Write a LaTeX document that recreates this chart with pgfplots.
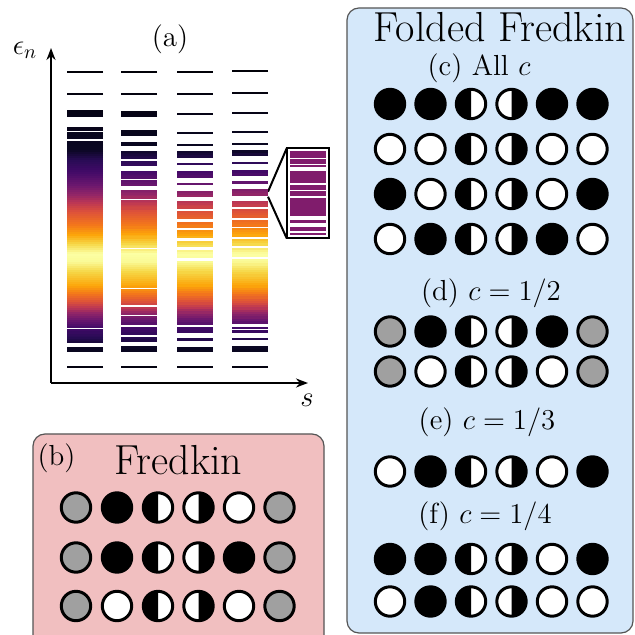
\documentclass[border=0pt]{standalone}
\usepackage{fontspec}
\usepackage{pgfplots}
\pgfplotsset{compat=1.18}
\usetikzlibrary{arrows.meta}

\definecolor{pinkbg}{RGB}{241,191,192}
\definecolor{bluebg}{RGB}{213,232,250}
\definecolor{boxedge}{RGB}{85,85,85}
\definecolor{dotgray}{RGB}{160,160,160}
\definecolor{insetpurple}{RGB}{128,28,108}

% half filled discs: left half black / right half black
\pgfdeclareplotmark{halfL}{%
  \pgfpathcircle{\pgfpointorigin}{\pgfplotmarksize}%
  \pgfsetfillcolor{white}\pgfusepathqfill
  \pgfpathmoveto{\pgfqpoint{0pt}{\pgfplotmarksize}}%
  \pgfpatharc{90}{270}{\pgfplotmarksize}%
  \pgfpathclose
  \pgfsetfillcolor{black}\pgfusepathqfill
  \pgfpathcircle{\pgfpointorigin}{\pgfplotmarksize}%
  \pgfusepathqstroke}
\pgfdeclareplotmark{halfR}{%
  \pgfpathcircle{\pgfpointorigin}{\pgfplotmarksize}%
  \pgfsetfillcolor{white}\pgfusepathqfill
  \pgfpathmoveto{\pgfqpoint{0pt}{\pgfplotmarksize}}%
  \pgfpatharc{90}{-90}{\pgfplotmarksize}%
  \pgfpathclose
  \pgfsetfillcolor{black}\pgfusepathqfill
  \pgfpathcircle{\pgfpointorigin}{\pgfplotmarksize}%
  \pgfusepathqstroke}

\newcommand{\lblfont}{\fontsize{14.5}{17}\selectfont}
\newcommand{\ttlfont}{\fontsize{21}{25}\selectfont}

\begin{document}
\begin{tikzpicture}
\useasboundingbox (0,0) rectangle (317pt,317.5pt);
\clip (0,0) rectangle (317pt,317.5pt);
% panel backgrounds
\draw[fill=pinkbg, draw=boxedge, line width=0.6pt, rounded corners=6pt] (16.5pt,100.5pt) rectangle (162pt,-10pt);
\draw[fill=bluebg, draw=boxedge, line width=0.6pt, rounded corners=6pt] (173.5pt,313.5pt) rectangle (316.5pt,1pt);

\begin{axis}[
    at={(0,0)}, anchor=south west,
    scale only axis, width=317pt, height=317.5pt,
    xmin=0, xmax=634, ymin=0, ymax=635, y dir=reverse,
    hide axis, clip=false,
    colormap={inferno}{
      rgb255(0pt)=(0,0,4); rgb255(90pt)=(10,7,34); rgb255(100pt)=(40,11,84);
      rgb255(112pt)=(66,10,104); rgb255(125pt)=(106,23,110); rgb255(135pt)=(147,38,103);
      rgb255(143pt)=(188,55,84); rgb255(152pt)=(221,81,58); rgb255(165pt)=(243,118,27);
      rgb255(175pt)=(252,165,10); rgb255(184pt)=(246,215,70); rgb255(194pt)=(252,255,164);
      rgb255(202pt)=(250,250,150); rgb255(212pt)=(246,215,70); rgb255(226pt)=(252,165,10);
      rgb255(234pt)=(243,118,27); rgb255(242pt)=(221,81,58); rgb255(248pt)=(188,55,84);
      rgb255(253pt)=(147,38,103); rgb255(260pt)=(106,23,110); rgb255(268pt)=(66,10,104);
      rgb255(278pt)=(40,11,84); rgb255(288pt)=(10,7,34); rgb255(320pt)=(0,0,4)},
    point meta min=60, point meta max=380,
    levels/.style={scatter, only marks, mark=-, mark size=9pt,
      scatter/use mapped color={draw=mapped color, fill=mapped color},
      mark options={line width=1.1pt}, point meta=y},
    disc/.style={only marks, mark size=7.35pt, mark options={line width=1.5pt, draw=black}},
]
% (a) energy levels, one column per system size
\addplot[levels] table[x expr=85, y=y] {
y
71.7
94
110.7
112.5
114.3
116.2
127.8
129.6
132.8
134.5
136.2
138.2
141.8
143.5
145.2
147.2
149
151
153
155
157
159
161
163
165
167
169
171
173
175
177
179
181
183
185
187
189
191
193
195
197
199
201
203
205
207
209
211
213
215
217
219
221
223
225
227
229
231
233
235
237
239
241
243
245
247
249
251
253
255
257
259
261
263
265
267
269
271
273
275
277
279
281
283
285
287
289
291
293
295
297
299
301
303
305
307
309
311
313
315
317
319
321
323
325
327
329.8
332.5
334.8
336.6
338.4
340.2
342.2
348.5
351
367
};
\addplot[levels] table[x expr=139, y=y] {
y
71.7
94
112.5
114
115.5
131.5
133
134.5
143
145
152.5
154
155.5
157
158
162
163.5
165
172
173.5
175
176.5
177.5
181.5
183
185
191.5
193
194.5
196
197.5
201.5
203
204.5
206
207.5
208.5
211.5
213.5
215.5
217.5
219.5
221.5
223.5
225.5
227.5
230.5
232.5
234.5
236.5
237.5
240
242
244
246
247
250
252
254
256
258
260
262
264
266
268
270
272
274
276
278
280
282
284
286
287
290
292
294
296
298
300
302
304
308
310
312
314
317.5
319.5
321.5
323.5
328.5
331
333.5
338.5
340.5
347.5
350.5
367
};
\addplot[levels] table[x expr=194.5, y=y] {
y
71.7
94
114
133.3
144.7
152.5
154.5
156.5
164.2
172.5
174.5
176.5
183.7
192
194
196
202.5
204.5
206.5
207.5
212
214
216
218
223
225
226.5
231
233
235
237.3
242.3
244.3
246
251
253
255
257
262
264
266
268.5
270.5
272.5
275
277
279
281.5
283.5
285.5
288
290
292.5
294.5
297
299
301.5
303.5
306
308
310.5
312.5
315
317
319.5
321.5
323.5
328.5
331.5
339.5
348.5
351
367
};
\addplot[levels] table[x expr=250, y=y] {
y
71
93
113
132.3
143.7
151.5
154.5
163
171.5
174.5
182.5
190.5
192.5
194.5
202
203.5
205.5
210.5
212.5
214.5
216.5
221.5
223.5
225.5
229.5
231.5
233.5
235.5
240.5
242.5
244.5
249
251
253
255.5
260.5
262.5
264.5
267
269
271
273.5
275.5
278
280
282
284.5
286.5
289
291
293
295.5
297.5
300
302
304
306.5
308.5
311
313
315.5
317.5
320
322.5
328
331.5
339
347.5
350.5
367
};
% zoomed inset of the fourth column
\addplot[only marks, mark=-, mark size=8.9pt, color=insetpurple,
  mark options={line width=1.3pt}] table[x expr=307.8, y=y] {
y
152.3
155
156.5
160.5
162.5
166
172.5
174
176.5
178.5
180.5
182
186
188.5
192.5
194.5
199
201
203
204.5
207.5
209.5
211.5
213.5
214.8
221.7
228
230
234
};
\draw[line width=1pt] (axis cs:286.7,148.3) rectangle (axis cs:329.3,238.3);
\draw[line width=1pt] (axis cs:268,191.7) -- (axis cs:286.7,148.3);
\draw[line width=1pt] (axis cs:268,196.7) -- (axis cs:286.7,238.3);
% axes of panel (a)
\draw[line width=1pt, -{Stealth[length=6pt,width=4.5pt]}] (axis cs:51,383) -- (axis cs:51,48);
\draw[line width=1pt, -{Stealth[length=6pt,width=4.5pt]}] (axis cs:51,383) -- (axis cs:308,383);
\node[font=\lblfont] at (axis cs:170,39) {(a)};
\node[font=\lblfont] at (axis cs:25,50) {$\epsilon_n$};
\node[font=\lblfont] at (axis cs:307,400) {$s$};

% dot configurations
\addplot[disc, mark=*, fill=dotgray] coordinates {
  (76,507.5) (279.5,507.5) (76,557.5) (279.5,557.5) (76,606) (279.5,606)
  (390,331.5) (592.5,331.5) (390,371.5) (592.5,371.5)};
\addplot[disc, mark=*, fill=black] coordinates {
  (117,507.5) (117,557.5) (239,557.5)
  (390,104) (430.5,104) (552,104) (592.5,104)
  (390,194) (592.5,194) (430.5,239) (552,239)
  (430.5,331.5) (552,331.5)
  (430.5,471.5) (592.5,471.5)
  (390,559) (430.5,559) (592.5,559) (430.5,601.5)};
\addplot[disc, mark=*, fill=white] coordinates {
  (239,507.5) (117,606) (239,606)
  (390,149) (430.5,149) (552,149) (592.5,149)
  (430.5,194) (552,194) (390,239) (592.5,239)
  (430.5,371.5) (552,371.5)
  (390,471.5) (552,471.5)
  (552,559) (390,601.5) (552,601.5) (592.5,601.5)};
\addplot[disc, mark=halfL] coordinates {
  (158,507.5) (158,557.5) (158,606)
  (471,104) (471,149) (471,194) (471,239) (471,331.5) (471,371.5)
  (471,471.5) (471,559) (471,601.5)};
\addplot[disc, mark=halfR] coordinates {
  (198.5,507.5) (198.5,557.5) (198.5,606)
  (511.5,104) (511.5,149) (511.5,194) (511.5,239) (511.5,331.5) (511.5,371.5)
  (511.5,471.5) (511.5,559) (511.5,601.5)};

\node[font=\lblfont] at (axis cs:56.5,458) {(b)};
\node[font=\ttlfont, anchor=base] at (axis cs:178.5,474) {Fredkin};
\node[font=\ttlfont, anchor=base] at (axis cs:500,42) {Folded Fredkin};
\node[font=\lblfont] at (axis cs:479,68) {(c) All $c$};
\node[font=\lblfont] at (axis cs:491,293) {(d) $c=1/2$};
\node[font=\lblfont] at (axis cs:487,422.5) {(e) $c=1/3$};
\node[font=\lblfont] at (axis cs:485,516) {(f) $c=1/4$};
\end{axis}
\end{tikzpicture}
\end{document}
